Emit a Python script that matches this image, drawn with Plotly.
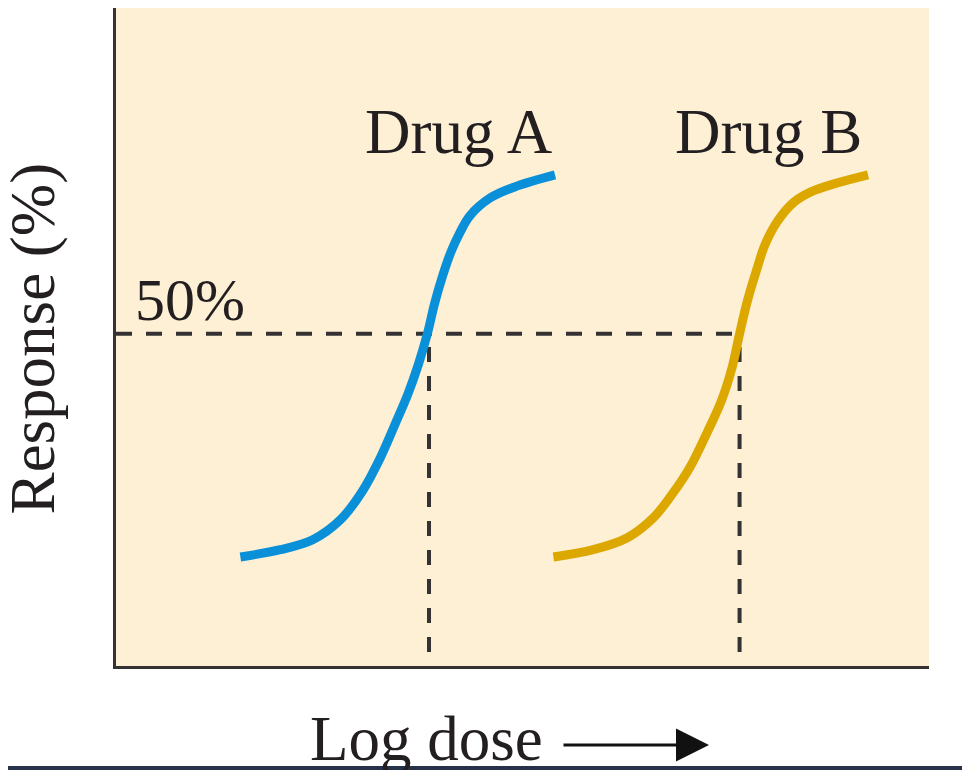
import plotly.graph_objects as go

# кривые доза-эффект (логарифм дозы, % ответа)
drug_a_x = [1.53, 2.02, 2.42, 2.76, 3.03, 3.25, 3.43, 3.59, 3.72, 3.83, 3.92, 4.02, 4.12, 4.23, 4.35, 4.60, 4.93, 5.40]
drug_a_y = [16.4, 17.5, 19.0, 22.0, 26.3, 31.3, 36.3, 40.9, 45.4, 50.0, 54.6, 58.8, 62.3, 65.2, 67.7, 70.4, 72.2, 73.9]
drug_b_x = [5.38, 5.87, 6.29, 6.61, 6.85, 7.06, 7.27, 7.45, 7.58, 7.67, 7.77, 7.88, 7.98, 8.13, 8.33, 8.54, 8.82, 9.25]
drug_b_y = [16.4, 17.5, 19.3, 22.3, 26.0, 29.9, 35.1, 40.0, 45.0, 50.0, 55.1, 59.6, 63.3, 66.8, 69.7, 71.3, 72.5, 73.9]
drug_names = ["Drug A", "Drug B"]
ec50 = [3.85, 7.67]  # доза, дающая 50% ответа
half_response = 50

blue = "#0a90d8"
gold = "#dca800"
dark = "#343232"
serif = "Liberation Serif, Times New Roman, serif"

fig = go.Figure()

# пунктир 50%
fig.add_trace(go.Scatter(x=[0, ec50[1]], y=[half_response, half_response], mode="lines",
                         line=dict(color=dark, width=4, dash="16px,14px"), hoverinfo="skip"))
for e in ec50:
    fig.add_trace(go.Scatter(x=[e, e], y=[half_response - 2, 0], mode="lines",
                             line=dict(color=dark, width=4, dash="15px,14px"), hoverinfo="skip"))

fig.add_trace(go.Scatter(x=drug_a_x, y=drug_a_y, mode="lines", name=drug_names[0],
                         line=dict(color=blue, width=9, shape="spline")))
fig.add_trace(go.Scatter(x=drug_b_x, y=drug_b_y, mode="lines", name=drug_names[1],
                         line=dict(color=gold, width=9, shape="spline")))

fig.update_xaxes(range=[0, 10], showgrid=False, zeroline=False, showticklabels=False, ticks="",
                 showline=True, linecolor=dark, linewidth=3)
fig.update_yaxes(range=[0, 99], showgrid=False, zeroline=False, showticklabels=False, ticks="",
                 showline=True, linecolor=dark, linewidth=3)

big = dict(family=serif, size=63, color="#231f20")
fig.add_annotation(x=4.22, y=80.3, text=drug_names[0], showarrow=False, font=big,
                   xanchor="center", yanchor="middle")
fig.add_annotation(x=8.03, y=80.3, text=drug_names[1], showarrow=False, font=big,
                   xanchor="center", yanchor="middle")
fig.add_annotation(x=0.91, y=55.0, text="50%", showarrow=False,
                   font=dict(family=serif, size=60, color="#231f20"), xanchor="center", yanchor="middle")
fig.add_annotation(x=-0.102, y=0.498, xref="paper", yref="paper", text="Response (%)",
                   textangle=-90, showarrow=False, font=big, xanchor="center", yanchor="middle")
fig.add_annotation(x=0.3825, y=-0.111, xref="paper", yref="paper", text="Log dose",
                   showarrow=False, font=big, xanchor="center", yanchor="middle")
# стрелка после "Log dose"
fig.add_annotation(x=0.7294, y=-0.120, xref="paper", yref="paper", ax=-147, ay=0,
                   axref="pixel", ayref="pixel", text="", showarrow=True,
                   arrowhead=2, arrowsize=2.2, arrowwidth=3, arrowcolor="#111111")

# тёмная полоса рамки снизу
fig.add_shape(type="rect", xref="paper", yref="paper", x0=-0.2, x1=1.1, y0=-0.2, y1=-0.152,
              fillcolor="#263248", line_width=0)

fig.update_layout(width=962, height=762, margin=dict(l=108, r=41, t=0, b=104),
                  plot_bgcolor="#fdf0d5", paper_bgcolor="white", showlegend=False)

fig.write_html("out.html")
